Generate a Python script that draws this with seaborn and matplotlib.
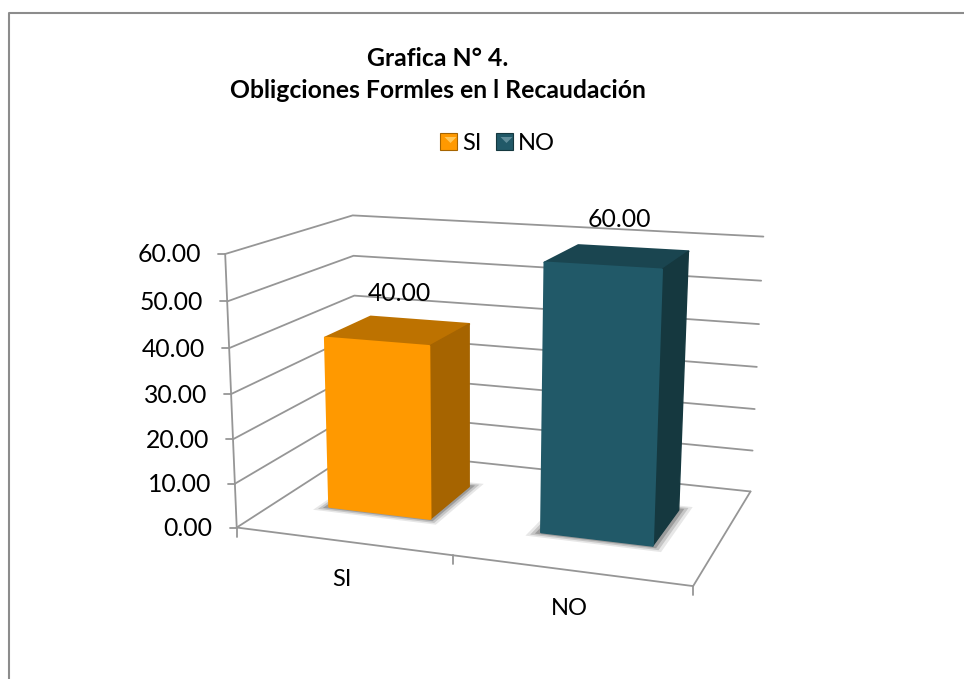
import numpy as np
import seaborn as sns
import matplotlib
matplotlib.use('Agg')
import matplotlib.pyplot as plt
import matplotlib.transforms as mtransforms

categorias = ['SI', 'NO']
valores = [40.00, 60.00]
ticks_valor = [0, 10, 20, 30, 40, 50, 60]
colores_frente = ['#FF9900', '#215968']
colores_arriba = ['#BD7200', '#1A4550']
colores_lado = ['#A66400', '#15383F']
colores_brillo = ['#FFC75A', '#5E8C99']

# esquinas de la caja 3D (x categoria, valor, profundidad) -> pixeles
mundo = np.array([[0, 0, 0], [1, 0, 0], [2, 0, 0], [2, 0, 1], [0, 0, 1],
                  [0, 60, 0], [0, 60, 1], [2, 60, 1]], dtype=float)
pixeles = np.array([[238, 526], [453, 556], [693, 587], [751, 490], [356, 451],
                    [224, 254], [354, 215], [763, 237]], dtype=float)
Z_FRENTE = 0.31
Z_FONDO = 0.70
ALTO_BARRA = 0.98  # en el original las barras quedan algo por debajo de su linea


# Ajuste de la proyeccion en perspectiva
def ajustar_proyeccion(w, p):
    filas = []
    lado = []
    for (x, y, z), (u, v) in zip(w, p):
        filas.append([x, y, z, 1, 0, 0, 0, 0, -u * x, -u * y, -u * z])
        lado.append(u)
        filas.append([0, 0, 0, 0, x, y, z, 1, -v * x, -v * y, -v * z])
        lado.append(v)
    m = np.linalg.lstsq(np.array(filas), np.array(lado), rcond=None)[0]
    return np.append(m, 1).reshape(3, 4)


P = ajustar_proyeccion(mundo, pixeles)


def proyectar(x, y, z):
    x, y, z = np.broadcast_arrays(np.asarray(x, float), np.asarray(y, float), np.asarray(z, float))
    h = P @ np.stack([x, y, z, np.ones_like(x)])
    return np.stack([h[0] / h[2], h[1] / h[2]], axis=-1)


class PlanoFrontal(mtransforms.Transform):
    input_dims = 2
    output_dims = 2

    def __init__(self, z):
        super().__init__()
        self.z = z

    def transform_non_affine(self, values):
        values = np.asarray(values)
        return proyectar(values[:, 0] + 0.5, values[:, 1] * ALTO_BARRA, self.z)


sns.set_theme(style='white')
plt.rcParams['font.family'] = ['Lato', 'DejaVu Sans']

fig = plt.figure(figsize=(9.64, 6.79), dpi=100)
ax = fig.add_axes([0, 0, 1, 1])

# las barras salen de seaborn y se pasan al plano frontal de la caja
sns.barplot(x=categorias, y=valores, hue=categorias, palette=colores_frente, width=0.49,
            dodge=False, saturation=1, legend=True, ax=ax, zorder=5)
handles, labels = ax.get_legend_handles_labels()
ax.get_legend().remove()
barras = list(ax.patches)[:len(categorias)]
ax.set_xlim(0, 964)
ax.set_ylim(679, 0)
ax.axis('off')

GRIS = '#969696'


def linea(puntos, lw=1.3):
    puntos = np.array(puntos)
    ax.plot(puntos[:, 0], puntos[:, 1], color=GRIS, lw=lw, solid_capstyle='round', zorder=1)


# marco del grafico (sin lado derecho ni inferior)
ax.plot([8.5, 8.5, 964], [679, 12.5, 12.5], color='#8C8C8C', lw=1.5, zorder=1)

# paredes y piso
for t in ticks_valor:
    linea([proyectar(0, t, 0), proyectar(0, t, 1), proyectar(2, t, 1)])
    u, v = proyectar(0, t, 0)
    linea([(u - 7, v), (u, v)])
    ax.text(u - 24, v + 1, f'{t:.2f}', ha='right', va='center', fontsize=17.8, color='black')
linea([proyectar(0, 0, 0), proyectar(0, 60, 0)])
linea([proyectar(0, 0, 0), proyectar(2, 0, 0), proyectar(2, 0, 1)])
for x in [0, 1, 2]:
    u, v = proyectar(x, 0, 0)
    linea([(u, v), (u, v + 9)])

# barras con sombra, tapa y lado
for i, bar in enumerate(barras):
    x0 = bar.get_x() + 0.5
    x1 = x0 + bar.get_width()
    alto = bar.get_height() * ALTO_BARRA

    for d, a in [(0.05, 0.12), (0.035, 0.2), (0.02, 0.3)]:
        sombra = proyectar([x0 - d, x1 + d, x1 + d, x0 - d], 0,
                           [Z_FRENTE - d, Z_FRENTE - d, Z_FONDO + d, Z_FONDO + d])
        ax.fill(sombra[:, 0], sombra[:, 1], color='#404040', alpha=a, lw=0, zorder=2)

    tapa = proyectar([x0, x1, x1, x0], alto, [Z_FRENTE, Z_FRENTE, Z_FONDO, Z_FONDO])
    ax.fill(tapa[:, 0], tapa[:, 1], facecolor=colores_arriba[i], edgecolor=colores_arriba[i],
            lw=1.5, joinstyle='round', zorder=4)
    lado = proyectar(x1, [0, alto, alto, 0], [Z_FRENTE, Z_FRENTE, Z_FONDO, Z_FONDO])
    ax.fill(lado[:, 0], lado[:, 1], facecolor=colores_lado[i], edgecolor=colores_lado[i],
            lw=1, joinstyle='round', zorder=4)

    bar.set_transform(PlanoFrontal(Z_FRENTE) + ax.transData)
    bar.set_clip_on(False)
    bar.set_edgecolor(colores_frente[i])
    bar.set_linewidth(1.5)
    bar.set_joinstyle('round')

    u, v = proyectar((x0 + x1) / 2, alto, (Z_FRENTE + Z_FONDO) / 2)
    ax.text(u + 1, v - 37, f'{valores[i]:.2f}', ha='center', va='center', fontsize=17.8, color='black', zorder=6)
    u, v = proyectar(i + 0.5, 0, 0)
    ax.text(u, v + 38, categorias[i], ha='center', va='center', fontsize=17, color='black')

ax.text(437.5, 59, 'Grafica N° 4.', ha='center', va='center', fontsize=17.8, fontweight='bold', color='black')
ax.text(437.5, 90, 'Obligciones Formles en l Recaudación', ha='center', va='center', fontsize=17.8, fontweight='bold', color='black')

for i, h in enumerate(handles):
    h.set_edgecolor(colores_lado[i])
    h.set_linewidth(0.8)

ax.legend(handles, labels, ncol=2, frameon=False, loc='center', bbox_to_anchor=(497.5, 143),
          bbox_transform=ax.transData, fontsize=17, handlelength=0.73, handleheight=0.73,
          handletextpad=0.22, columnspacing=0.6, labelcolor='black', borderpad=0, borderaxespad=0)

# brillo de la muestra de la leyenda
for i, x_muestra in enumerate([442.5, 498.5]):
    ax.fill([x_muestra + 2, x_muestra + 14, x_muestra + 8], [137, 137, 143],
            color=colores_brillo[i], lw=0, zorder=10)

fig.savefig('out.png', dpi=100)
